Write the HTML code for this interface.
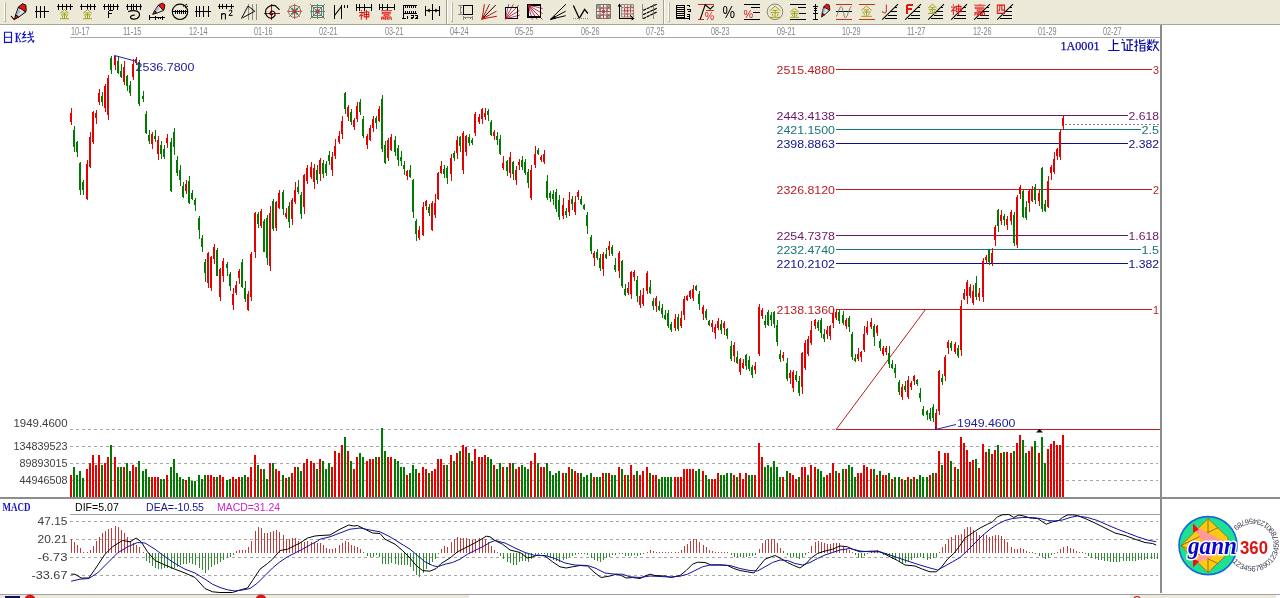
<!DOCTYPE html>
<html><head><meta charset="utf-8"><title>chart</title>
<style>
html,body{margin:0;padding:0;background:#fff;overflow:hidden}
body{width:1280px;height:598px;position:relative;font-family:"Liberation Sans",sans-serif}
#tb{position:absolute;left:0;top:0;width:1280px;height:24px;background:#ece9d8}
#tbl{position:absolute;left:0;top:24px;width:1280px;height:1px;background:#a7a595}
#sb{position:absolute;left:0;top:594px;width:1280px;height:4px;background:#fff;border-top:1px solid #a0a0a0;box-sizing:border-box}
#sb1{position:absolute;left:0;top:595px;width:469px;height:3px;background:#ece9d8}
#sb2{position:absolute;left:1130px;top:595px;width:146px;height:3px;background:#ece9d8}
svg{position:absolute;left:0;top:0;will-change:transform;opacity:0.999}
</style></head><body>
<div id="tb"></div><div id="tbl"></div>
<div id="sb"></div><div id="sb1"></div><div id="sb2"></div>
<svg width="1280" height="598" viewBox="0 0 1280 598">
<line x1="70" y1="37.5" x2="1160" y2="37.5" stroke="#a8a8a8" stroke-width="1" shape-rendering="crispEdges"/><rect x="1160" y="25" width="2" height="568" fill="#8c8c8c" shape-rendering="crispEdges"/><rect x="0" y="497" width="1280" height="2" fill="#8c8c8c" shape-rendering="crispEdges"/><line x1="70" y1="514.5" x2="1160" y2="514.5" stroke="#a0a0a0" stroke-width="1" shape-rendering="crispEdges"/><text x="71" y="34.9" font-size="10" fill="#858585" font-family="'Liberation Sans',sans-serif" textLength="18.5" lengthAdjust="spacingAndGlyphs" >10-17</text><text x="123" y="34.9" font-size="10" fill="#858585" font-family="'Liberation Sans',sans-serif" textLength="18.5" lengthAdjust="spacingAndGlyphs" >11-15</text><text x="189" y="34.9" font-size="10" fill="#858585" font-family="'Liberation Sans',sans-serif" textLength="18.5" lengthAdjust="spacingAndGlyphs" >12-14</text><text x="254" y="34.9" font-size="10" fill="#858585" font-family="'Liberation Sans',sans-serif" textLength="18.5" lengthAdjust="spacingAndGlyphs" >01-16</text><text x="319" y="34.9" font-size="10" fill="#858585" font-family="'Liberation Sans',sans-serif" textLength="18.5" lengthAdjust="spacingAndGlyphs" >02-21</text><text x="385" y="34.9" font-size="10" fill="#858585" font-family="'Liberation Sans',sans-serif" textLength="18.5" lengthAdjust="spacingAndGlyphs" >03-21</text><text x="450" y="34.9" font-size="10" fill="#858585" font-family="'Liberation Sans',sans-serif" textLength="18.5" lengthAdjust="spacingAndGlyphs" >04-24</text><text x="515" y="34.9" font-size="10" fill="#858585" font-family="'Liberation Sans',sans-serif" textLength="18.5" lengthAdjust="spacingAndGlyphs" >05-25</text><text x="581" y="34.9" font-size="10" fill="#858585" font-family="'Liberation Sans',sans-serif" textLength="18.5" lengthAdjust="spacingAndGlyphs" >06-26</text><text x="646" y="34.9" font-size="10" fill="#858585" font-family="'Liberation Sans',sans-serif" textLength="18.5" lengthAdjust="spacingAndGlyphs" >07-25</text><text x="711" y="34.9" font-size="10" fill="#858585" font-family="'Liberation Sans',sans-serif" textLength="18.5" lengthAdjust="spacingAndGlyphs" >08-23</text><text x="777" y="34.9" font-size="10" fill="#858585" font-family="'Liberation Sans',sans-serif" textLength="18.5" lengthAdjust="spacingAndGlyphs" >09-21</text><text x="842" y="34.9" font-size="10" fill="#858585" font-family="'Liberation Sans',sans-serif" textLength="18.5" lengthAdjust="spacingAndGlyphs" >10-29</text><text x="907" y="34.9" font-size="10" fill="#858585" font-family="'Liberation Sans',sans-serif" textLength="18.5" lengthAdjust="spacingAndGlyphs" >11-27</text><text x="973" y="34.9" font-size="10" fill="#858585" font-family="'Liberation Sans',sans-serif" textLength="18.5" lengthAdjust="spacingAndGlyphs" >12-26</text><text x="1038" y="34.9" font-size="10" fill="#858585" font-family="'Liberation Sans',sans-serif" textLength="18.5" lengthAdjust="spacingAndGlyphs" >01-29</text><text x="1103" y="34.9" font-size="10" fill="#858585" font-family="'Liberation Sans',sans-serif" textLength="18.5" lengthAdjust="spacingAndGlyphs" >02-27</text><line x1="70" y1="429.5" x2="836" y2="429.5" stroke="#a6a6a6" stroke-width="1" stroke-dasharray="3 3" shape-rendering="crispEdges"/><line x1="70" y1="446.5" x2="1158" y2="446.5" stroke="#a6a6a6" stroke-width="1" stroke-dasharray="3 3" shape-rendering="crispEdges"/><line x1="70" y1="463.5" x2="1158" y2="463.5" stroke="#a6a6a6" stroke-width="1" stroke-dasharray="3 3" shape-rendering="crispEdges"/><line x1="70" y1="480.5" x2="1158" y2="480.5" stroke="#a6a6a6" stroke-width="1" stroke-dasharray="3 3" shape-rendering="crispEdges"/><line x1="70" y1="521.5" x2="1158" y2="521.5" stroke="#a6a6a6" stroke-width="1" stroke-dasharray="3 3" shape-rendering="crispEdges"/><line x1="70" y1="539.5" x2="1158" y2="539.5" stroke="#a6a6a6" stroke-width="1" stroke-dasharray="3 3" shape-rendering="crispEdges"/><line x1="70" y1="557.5" x2="1158" y2="557.5" stroke="#a6a6a6" stroke-width="1" stroke-dasharray="3 3" shape-rendering="crispEdges"/><line x1="70" y1="575.5" x2="1158" y2="575.5" stroke="#a6a6a6" stroke-width="1" stroke-dasharray="3 3" shape-rendering="crispEdges"/><path fill="#e60000" d="M70 475h2v22h-2zM86 469h2v28h-2zM89 463h2v34h-2zM92 455h2v42h-2zM95 465h2v32h-2zM98 455h2v42h-2zM104 463h2v34h-2zM107 457h2v40h-2zM114 457h2v40h-2zM123 467h2v30h-2zM132 465h2v32h-2zM135 467h2v30h-2zM151 477h2v20h-2zM154 477h2v20h-2zM157 477h2v20h-2zM166 475h2v22h-2zM185 480h2v17h-2zM207 475h2v22h-2zM210 475h2v22h-2zM213 477h2v20h-2zM219 475h2v22h-2zM222 477h2v20h-2zM232 477h2v20h-2zM235 479h2v18h-2zM238 477h2v20h-2zM247 477h2v20h-2zM250 467h2v30h-2zM254 455h2v42h-2zM260 469h2v28h-2zM269 463h2v34h-2zM275 469h2v28h-2zM278 471h2v26h-2zM285 478h2v19h-2zM291 473h2v24h-2zM294 467h2v30h-2zM303 463h2v34h-2zM306 459h2v38h-2zM310 461h2v36h-2zM313 463h2v34h-2zM319 459h2v38h-2zM331 467h2v30h-2zM334 451h2v46h-2zM338 453h2v44h-2zM341 445h2v52h-2zM347 451h2v46h-2zM353 469h2v28h-2zM356 457h2v40h-2zM366 461h2v36h-2zM369 459h2v38h-2zM372 459h2v38h-2zM378 457h2v40h-2zM387 457h2v40h-2zM390 457h2v40h-2zM406 475h2v22h-2zM418 473h2v24h-2zM422 467h2v30h-2zM425 469h2v28h-2zM431 471h2v26h-2zM434 469h2v28h-2zM437 459h2v38h-2zM440 459h2v38h-2zM443 465h2v32h-2zM450 455h2v42h-2zM456 453h2v44h-2zM462 445h2v52h-2zM465 447h2v50h-2zM474 449h2v48h-2zM478 457h2v40h-2zM481 457h2v40h-2zM484 455h2v42h-2zM493 465h2v32h-2zM502 467h2v30h-2zM509 463h2v34h-2zM515 469h2v28h-2zM518 467h2v30h-2zM530 461h2v36h-2zM534 453h2v44h-2zM540 467h2v30h-2zM543 467h2v30h-2zM562 473h2v24h-2zM568 467h2v30h-2zM574 471h2v26h-2zM577 473h2v24h-2zM593 477h2v20h-2zM602 473h2v24h-2zM608 473h2v24h-2zM618 467h2v30h-2zM624 475h2v22h-2zM630 465h2v32h-2zM633 475h2v22h-2zM639 475h2v22h-2zM642 471h2v26h-2zM646 467h2v30h-2zM652 475h2v22h-2zM655 475h2v22h-2zM674 477h2v20h-2zM677 477h2v20h-2zM680 477h2v20h-2zM683 469h2v28h-2zM686 469h2v28h-2zM689 469h2v28h-2zM692 469h2v28h-2zM702 471h2v26h-2zM711 479h2v18h-2zM714 479h2v18h-2zM717 473h2v24h-2zM733 475h2v22h-2zM739 473h2v24h-2zM742 479h2v18h-2zM745 473h2v24h-2zM754 475h2v22h-2zM758 443h2v54h-2zM761 457h2v40h-2zM782 477h2v20h-2zM789 473h2v24h-2zM792 475h2v22h-2zM795 479h2v18h-2zM801 467h2v30h-2zM804 467h2v30h-2zM810 465h2v32h-2zM814 467h2v30h-2zM826 475h2v22h-2zM829 473h2v24h-2zM832 463h2v34h-2zM838 473h2v24h-2zM845 469h2v28h-2zM857 473h2v24h-2zM860 473h2v24h-2zM863 465h2v32h-2zM866 467h2v30h-2zM870 469h2v28h-2zM876 475h2v22h-2zM882 475h2v22h-2zM885 475h2v22h-2zM891 479h2v18h-2zM901 479h2v18h-2zM907 477h2v20h-2zM913 477h2v20h-2zM929 475h2v22h-2zM935 473h2v24h-2zM938 451h2v46h-2zM944 453h2v44h-2zM947 453h2v44h-2zM954 467h2v30h-2zM960 437h2v60h-2zM963 443h2v54h-2zM966 450h2v47h-2zM969 462h2v35h-2zM972 460h2v37h-2zM978 468h2v29h-2zM982 444h2v53h-2zM985 452h2v45h-2zM991 454h2v43h-2zM994 450h2v47h-2zM1000 453h2v44h-2zM1006 452h2v45h-2zM1010 453h2v44h-2zM1016 443h2v54h-2zM1019 435h2v62h-2zM1028 451h2v46h-2zM1031 447h2v50h-2zM1038 453h2v44h-2zM1047 449h2v48h-2zM1050 444h2v53h-2zM1053 441h2v56h-2zM1056 445h2v52h-2zM1059 445h2v52h-2zM1062 435h2v62h-2z"/><path fill="#007a00" d="M73 467h2v30h-2zM76 475h2v22h-2zM79 471h2v26h-2zM82 478h2v19h-2zM101 465h2v32h-2zM110 445h2v52h-2zM117 467h2v30h-2zM120 467h2v30h-2zM126 463h2v34h-2zM129 471h2v26h-2zM138 461h2v36h-2zM142 471h2v26h-2zM145 469h2v28h-2zM148 477h2v20h-2zM160 479h2v18h-2zM163 479h2v18h-2zM170 467h2v30h-2zM173 459h2v38h-2zM176 473h2v24h-2zM179 477h2v20h-2zM182 479h2v18h-2zM188 477h2v20h-2zM191 481h2v16h-2zM194 481h2v16h-2zM198 475h2v22h-2zM201 479h2v18h-2zM204 475h2v22h-2zM216 477h2v20h-2zM226 480h2v17h-2zM229 479h2v18h-2zM241 477h2v20h-2zM244 475h2v22h-2zM257 465h2v32h-2zM263 469h2v28h-2zM266 479h2v18h-2zM272 463h2v34h-2zM282 475h2v22h-2zM288 477h2v20h-2zM297 467h2v30h-2zM300 471h2v26h-2zM316 469h2v28h-2zM322 461h2v36h-2zM325 469h2v28h-2zM328 463h2v34h-2zM344 437h2v60h-2zM350 461h2v36h-2zM359 453h2v44h-2zM362 457h2v40h-2zM375 457h2v40h-2zM381 428h2v69h-2zM384 451h2v46h-2zM394 459h2v38h-2zM397 461h2v36h-2zM400 467h2v30h-2zM403 467h2v30h-2zM409 473h2v24h-2zM412 465h2v32h-2zM415 469h2v28h-2zM428 473h2v24h-2zM446 465h2v32h-2zM453 461h2v36h-2zM459 451h2v46h-2zM468 453h2v44h-2zM471 461h2v36h-2zM487 457h2v40h-2zM490 459h2v38h-2zM496 469h2v28h-2zM499 463h2v34h-2zM506 467h2v30h-2zM512 463h2v34h-2zM521 465h2v32h-2zM524 467h2v30h-2zM527 469h2v28h-2zM537 463h2v34h-2zM546 463h2v34h-2zM549 471h2v26h-2zM552 475h2v22h-2zM555 473h2v24h-2zM558 471h2v26h-2zM565 473h2v24h-2zM571 469h2v28h-2zM580 473h2v24h-2zM583 477h2v20h-2zM586 475h2v22h-2zM590 473h2v24h-2zM596 477h2v20h-2zM599 477h2v20h-2zM605 473h2v24h-2zM611 475h2v22h-2zM614 475h2v22h-2zM621 469h2v28h-2zM627 475h2v22h-2zM636 471h2v26h-2zM649 473h2v24h-2zM658 479h2v18h-2zM661 477h2v20h-2zM664 477h2v20h-2zM667 477h2v20h-2zM670 477h2v20h-2zM695 471h2v26h-2zM698 469h2v28h-2zM705 475h2v22h-2zM708 479h2v18h-2zM720 475h2v22h-2zM723 475h2v22h-2zM726 473h2v24h-2zM730 473h2v24h-2zM736 477h2v20h-2zM748 475h2v22h-2zM751 475h2v22h-2zM764 467h2v30h-2zM767 465h2v32h-2zM770 467h2v30h-2zM773 461h2v36h-2zM776 467h2v30h-2zM779 477h2v20h-2zM786 471h2v26h-2zM798 477h2v20h-2zM807 475h2v22h-2zM817 469h2v28h-2zM820 471h2v26h-2zM823 477h2v20h-2zM835 471h2v26h-2zM842 469h2v28h-2zM848 465h2v32h-2zM851 467h2v30h-2zM854 477h2v20h-2zM873 469h2v28h-2zM879 471h2v26h-2zM888 473h2v24h-2zM894 477h2v20h-2zM898 477h2v20h-2zM904 480h2v17h-2zM910 479h2v18h-2zM916 479h2v18h-2zM919 475h2v22h-2zM922 477h2v20h-2zM926 477h2v20h-2zM932 473h2v24h-2zM941 465h2v32h-2zM950 461h2v36h-2zM957 469h2v28h-2zM975 459h2v38h-2zM988 449h2v48h-2zM997 445h2v52h-2zM1003 452h2v45h-2zM1013 451h2v46h-2zM1022 440h2v57h-2zM1025 453h2v44h-2zM1034 441h2v56h-2zM1041 437h2v60h-2zM1044 463h2v34h-2z"/><line x1="836" y1="69.5" x2="1152" y2="69.5" stroke="#bc1c20" stroke-width="1" shape-rendering="crispEdges"/><text x="776.5" y="73.5" font-size="11" fill="#bc1c20" font-family="'Liberation Sans',sans-serif" textLength="58.5" lengthAdjust="spacingAndGlyphs" >2515.4880</text><text x="1159" y="73.5" font-size="11" fill="#bc1c20" font-family="'Liberation Sans',sans-serif" text-anchor="end" textLength="6" lengthAdjust="spacingAndGlyphs" >3</text><line x1="836" y1="115.5" x2="1127.5" y2="115.5" stroke="#6c1666" stroke-width="1" shape-rendering="crispEdges"/><text x="776.5" y="119.5" font-size="11" fill="#6c1666" font-family="'Liberation Sans',sans-serif" textLength="58.5" lengthAdjust="spacingAndGlyphs" >2443.4138</text><text x="1159" y="119.5" font-size="11" fill="#6c1666" font-family="'Liberation Sans',sans-serif" text-anchor="end" textLength="30.5" lengthAdjust="spacingAndGlyphs" >2.618</text><line x1="836" y1="129.5" x2="1140.5" y2="129.5" stroke="#187676" stroke-width="1" shape-rendering="crispEdges"/><text x="776.5" y="133.5" font-size="11" fill="#187676" font-family="'Liberation Sans',sans-serif" textLength="58.5" lengthAdjust="spacingAndGlyphs" >2421.1500</text><text x="1159" y="133.5" font-size="11" fill="#187676" font-family="'Liberation Sans',sans-serif" text-anchor="end" textLength="17.5" lengthAdjust="spacingAndGlyphs" >2.5</text><line x1="836" y1="143.5" x2="1127.5" y2="143.5" stroke="#10108e" stroke-width="1" shape-rendering="crispEdges"/><text x="776.5" y="147.5" font-size="11" fill="#10108e" font-family="'Liberation Sans',sans-serif" textLength="58.5" lengthAdjust="spacingAndGlyphs" >2398.8863</text><text x="1159" y="147.5" font-size="11" fill="#10108e" font-family="'Liberation Sans',sans-serif" text-anchor="end" textLength="30.5" lengthAdjust="spacingAndGlyphs" >2.382</text><line x1="836" y1="189.5" x2="1152" y2="189.5" stroke="#bc1c20" stroke-width="1" shape-rendering="crispEdges"/><text x="776.5" y="193.5" font-size="11" fill="#bc1c20" font-family="'Liberation Sans',sans-serif" textLength="58.5" lengthAdjust="spacingAndGlyphs" >2326.8120</text><text x="1159" y="193.5" font-size="11" fill="#bc1c20" font-family="'Liberation Sans',sans-serif" text-anchor="end" textLength="6" lengthAdjust="spacingAndGlyphs" >2</text><line x1="836" y1="235.5" x2="1127.5" y2="235.5" stroke="#6c1666" stroke-width="1" shape-rendering="crispEdges"/><text x="776.5" y="239.5" font-size="11" fill="#6c1666" font-family="'Liberation Sans',sans-serif" textLength="58.5" lengthAdjust="spacingAndGlyphs" >2254.7378</text><text x="1159" y="239.5" font-size="11" fill="#6c1666" font-family="'Liberation Sans',sans-serif" text-anchor="end" textLength="30.5" lengthAdjust="spacingAndGlyphs" >1.618</text><line x1="836" y1="249.5" x2="1140.5" y2="249.5" stroke="#187676" stroke-width="1" shape-rendering="crispEdges"/><text x="776.5" y="253.5" font-size="11" fill="#187676" font-family="'Liberation Sans',sans-serif" textLength="58.5" lengthAdjust="spacingAndGlyphs" >2232.4740</text><text x="1159" y="253.5" font-size="11" fill="#187676" font-family="'Liberation Sans',sans-serif" text-anchor="end" textLength="17.5" lengthAdjust="spacingAndGlyphs" >1.5</text><line x1="836" y1="263.5" x2="1127.5" y2="263.5" stroke="#10108e" stroke-width="1" shape-rendering="crispEdges"/><text x="776.5" y="267.5" font-size="11" fill="#10108e" font-family="'Liberation Sans',sans-serif" textLength="58.5" lengthAdjust="spacingAndGlyphs" >2210.2102</text><text x="1159" y="267.5" font-size="11" fill="#10108e" font-family="'Liberation Sans',sans-serif" text-anchor="end" textLength="30.5" lengthAdjust="spacingAndGlyphs" >1.382</text><line x1="836" y1="309.5" x2="1152" y2="309.5" stroke="#bc1c20" stroke-width="1" shape-rendering="crispEdges"/><text x="776.5" y="313.5" font-size="11" fill="#bc1c20" font-family="'Liberation Sans',sans-serif" textLength="58.5" lengthAdjust="spacingAndGlyphs" >2138.1360</text><text x="1159" y="313.5" font-size="11" fill="#bc1c20" font-family="'Liberation Sans',sans-serif" text-anchor="end" textLength="6" lengthAdjust="spacingAndGlyphs" >1</text><line x1="836" y1="429.5" x2="1160" y2="429.5" stroke="#bc1c20" stroke-width="1" shape-rendering="crispEdges"/><line x1="836.5" y1="429" x2="925.5" y2="309.5" stroke="#bc1c20" stroke-width="1"/><line x1="1065" y1="124.5" x2="1159" y2="124.5" stroke="#808080" stroke-width="1" stroke-dasharray="2 2" shape-rendering="crispEdges"/><path fill="#e60000" d="M71 108h1v17h-1zM70 113h2v9h-2zM87 160h1v40h-1zM86 164h2v35h-2zM90 132h1v36h-1zM89 137h2v30h-2zM93 111h1v33h-1zM92 112h2v30h-2zM96 110h1v14h-1zM95 113h2v5h-2zM99 89h1v16h-1zM98 93h2v9h-2zM105 84h1v28h-1zM104 86h2v22h-2zM108 75h1v45h-1zM107 78h2v37h-2zM115 56h1v14h-1zM114 58h2v7h-2zM124 61h1v24h-1zM123 67h2v15h-2zM133 59h1v21h-1zM132 64h2v13h-2zM136 57h1v8h-1zM135 59h2v4h-2zM152 132h1v17h-1zM151 134h2v10h-2zM158 136h1v24h-1zM157 140h2v14h-2zM167 134h1v14h-1zM166 138h2v5h-2zM186 180h1v14h-1zM185 184h2v7h-2zM208 252h1v36h-1zM207 253h2v30h-2zM211 256h1v35h-1zM210 257h2v31h-2zM214 244h1v20h-1zM213 247h2v12h-2zM220 268h1v33h-1zM219 269h2v28h-2zM223 258h1v24h-1zM222 261h2v15h-2zM233 288h1v22h-1zM232 294h2v11h-2zM236 281h1v14h-1zM235 285h2v8h-2zM239 269h1v15h-1zM238 271h2v7h-2zM248 291h1v20h-1zM247 294h2v16h-2zM251 252h1v49h-1zM250 254h2v43h-2zM255 212h1v46h-1zM254 213h2v39h-2zM261 209h1v19h-1zM260 211h2v15h-2zM270 206h1v65h-1zM269 213h2v53h-2zM276 201h1v30h-1zM275 202h2v26h-2zM279 190h1v19h-1zM278 193h2v15h-2zM286 208h1v11h-1zM285 213h2v4h-2zM292 198h1v27h-1zM291 200h2v19h-2zM295 182h1v22h-1zM294 190h2v12h-2zM304 174h1v40h-1zM303 175h2v32h-2zM307 165h1v19h-1zM306 168h2v13h-2zM311 162h1v17h-1zM310 167h2v10h-2zM314 164h1v25h-1zM313 168h2v14h-2zM320 158h1v23h-1zM319 160h2v14h-2zM332 152h1v24h-1zM331 157h2v13h-2zM335 139h1v20h-1zM334 146h2v10h-2zM339 131h1v13h-1zM338 136h2v6h-2zM342 116h1v23h-1zM341 121h2v13h-2zM348 105h1v16h-1zM347 107h2v10h-2zM354 118h1v12h-1zM353 120h2v7h-2zM357 102h1v20h-1zM356 106h2v13h-2zM367 134h1v15h-1zM366 136h2v9h-2zM370 125h1v16h-1zM369 128h2v12h-2zM373 116h1v16h-1zM372 119h2v9h-2zM379 106h1v16h-1zM378 109h2v12h-2zM388 138h1v23h-1zM387 140h2v18h-2zM391 134h1v17h-1zM390 137h2v13h-2zM407 170h1v10h-1zM406 171h2v5h-2zM419 226h1v14h-1zM418 230h2v8h-2zM423 202h1v34h-1zM422 207h2v28h-2zM426 200h1v10h-1zM425 201h2v5h-2zM432 201h1v30h-1zM431 203h2v27h-2zM435 194h1v24h-1zM434 203h2v12h-2zM438 172h1v28h-1zM437 173h2v26h-2zM441 161h1v13h-1zM440 166h2v7h-2zM451 154h1v27h-1zM450 158h2v16h-2zM457 136h1v23h-1zM456 140h2v13h-2zM463 131h1v43h-1zM462 133h2v37h-2zM466 135h1v21h-1zM465 136h2v16h-2zM475 112h1v24h-1zM474 114h2v19h-2zM479 114h1v10h-1zM478 117h2v5h-2zM482 108h1v16h-1zM481 109h2v10h-2zM485 108h1v12h-1zM484 113h2v4h-2zM494 130h1v10h-1zM493 132h2v4h-2zM503 156h1v14h-1zM502 163h2v5h-2zM510 152h1v26h-1zM509 157h2v16h-2zM516 166h1v19h-1zM515 170h2v10h-2zM519 159h1v11h-1zM518 162h2v3h-2zM531 165h1v35h-1zM530 170h2v28h-2zM535 146h1v22h-1zM534 154h2v11h-2zM541 155h1v7h-1zM540 157h2v3h-2zM544 150h1v14h-1zM543 154h2v8h-2zM563 198h1v21h-1zM562 205h2v11h-2zM569 192h1v24h-1zM568 200h2v12h-2zM575 196h1v19h-1zM574 202h2v10h-2zM578 190h1v10h-1zM577 192h2v5h-2zM594 251h1v15h-1zM593 253h2v5h-2zM603 252h1v24h-1zM602 254h2v15h-2zM609 241h1v15h-1zM608 246h2v4h-2zM619 251h1v27h-1zM618 253h2v18h-2zM628 282h1v13h-1zM627 288h2v5h-2zM631 271h1v28h-1zM630 272h2v22h-2zM634 270h1v11h-1zM633 272h2v5h-2zM640 290h1v18h-1zM639 296h2v9h-2zM643 288h1v18h-1zM642 295h2v9h-2zM647 271h1v23h-1zM646 273h2v18h-2zM656 296h1v16h-1zM655 298h2v8h-2zM675 314h1v17h-1zM674 319h2v9h-2zM681 311h1v17h-1zM680 318h2v8h-2zM684 296h1v24h-1zM683 299h2v16h-2zM687 295h1v6h-1zM686 296h2v4h-2zM690 290h1v9h-1zM689 291h2v6h-2zM693 285h1v16h-1zM692 289h2v9h-2zM703 305h1v15h-1zM702 307h2v7h-2zM712 320h1v12h-1zM711 323h2v4h-2zM715 324h1v15h-1zM714 327h2v6h-2zM718 318h1v12h-1zM717 321h2v7h-2zM724 321h1v14h-1zM723 323h2v5h-2zM734 342h1v20h-1zM733 345h2v11h-2zM740 358h1v17h-1zM739 359h2v13h-2zM743 359h1v10h-1zM742 363h2v5h-2zM755 362h1v12h-1zM754 366h2v4h-2zM759 304h1v52h-1zM758 307h2v47h-2zM762 308h1v11h-1zM761 310h2v6h-2zM783 352h1v9h-1zM782 355h2v3h-2zM790 370h1v14h-1zM789 373h2v5h-2zM793 370h1v22h-1zM792 372h2v16h-2zM802 352h1v42h-1zM801 353h2v34h-2zM805 340h1v30h-1zM804 343h2v25h-2zM808 336h1v20h-1zM807 339h2v15h-2zM811 321h1v24h-1zM810 330h2v13h-2zM815 319h1v10h-1zM814 320h2v6h-2zM827 326h1v13h-1zM826 330h2v4h-2zM830 325h1v15h-1zM829 326h2v10h-2zM833 309h1v19h-1zM832 313h2v10h-2zM836 309h1v11h-1zM835 312h2v6h-2zM846 318h1v11h-1zM845 320h2v6h-2zM858 348h1v13h-1zM857 354h2v5h-2zM861 351h1v11h-1zM860 352h2v5h-2zM864 326h1v26h-1zM863 334h2v16h-2zM867 321h1v14h-1zM866 327h2v6h-2zM871 318h1v11h-1zM870 322h2v5h-2zM877 325h1v11h-1zM876 326h2v7h-2zM883 346h1v10h-1zM882 348h2v6h-2zM886 346h1v9h-1zM885 348h2v4h-2zM902 384h1v16h-1zM901 387h2v10h-2zM908 376h1v23h-1zM907 380h2v17h-2zM911 381h1v9h-1zM910 383h2v4h-2zM914 375h1v10h-1zM913 376h2v5h-2zM936 409h1v20h-1zM935 413h2v14h-2zM939 370h1v45h-1zM938 371h2v40h-2zM945 355h1v26h-1zM944 357h2v19h-2zM948 340h1v14h-1zM947 342h2v6h-2zM955 342h1v12h-1zM954 344h2v8h-2zM961 300h1v56h-1zM960 306h2v44h-2zM964 289h1v11h-1zM963 293h2v6h-2zM967 280h1v24h-1zM966 282h2v14h-2zM970 284h1v14h-1zM969 287h2v9h-2zM973 285h1v20h-1zM972 291h2v12h-2zM979 288h1v13h-1zM978 293h2v4h-2zM983 258h1v44h-1zM982 261h2v36h-2zM986 255h1v9h-1zM985 257h2v3h-2zM992 248h1v18h-1zM991 253h2v10h-2zM995 225h1v21h-1zM994 227h2v13h-2zM1001 210h1v15h-1zM1000 215h2v6h-2zM1007 216h1v14h-1zM1006 219h2v6h-2zM1011 210h1v15h-1zM1010 212h2v9h-2zM1017 195h1v53h-1zM1016 197h2v48h-2zM1020 185h1v14h-1zM1019 187h2v7h-2zM1029 189h1v23h-1zM1028 191h2v12h-2zM1032 186h1v16h-1zM1031 190h2v11h-2zM1039 190h1v16h-1zM1038 193h2v8h-2zM1048 176h1v32h-1zM1047 181h2v26h-2zM1051 165h1v15h-1zM1050 167h2v6h-2zM1054 152h1v22h-1zM1053 159h2v13h-2zM1057 148h1v12h-1zM1056 149h2v7h-2zM1060 129h1v31h-1zM1059 132h2v25h-2zM1063 116h1v14h-1zM1062 118h2v8h-2z"/><path fill="#007a00" d="M74 126h1v26h-1zM73 130h2v17h-2zM77 141h1v16h-1zM76 142h2v10h-2zM80 162h1v33h-1zM79 163h2v27h-2zM83 180h1v15h-1zM82 182h2v8h-2zM102 92h1v14h-1zM101 96h2v6h-2zM111 56h1v18h-1zM110 58h2v12h-2zM118 56h1v18h-1zM117 61h2v12h-2zM121 64h1v14h-1zM120 71h2v6h-2zM127 75h1v16h-1zM126 76h2v10h-2zM130 81h1v15h-1zM129 85h2v8h-2zM139 60h1v46h-1zM138 62h2v42h-2zM143 91h1v11h-1zM142 96h2v3h-2zM146 111h1v23h-1zM145 114h2v19h-2zM149 130h1v14h-1zM148 135h2v6h-2zM155 130h1v12h-1zM154 136h2v3h-2zM161 141h1v18h-1zM160 145h2v9h-2zM164 145h1v14h-1zM163 149h2v8h-2zM171 138h1v54h-1zM170 142h2v49h-2zM174 128h1v27h-1zM173 132h2v15h-2zM177 156h1v20h-1zM176 160h2v13h-2zM180 165h1v21h-1zM179 170h2v10h-2zM183 182h1v16h-1zM182 186h2v11h-2zM189 176h1v28h-1zM188 181h2v22h-2zM192 190h1v10h-1zM191 193h2v6h-2zM195 198h1v13h-1zM194 200h2v5h-2zM199 216h1v23h-1zM198 218h2v12h-2zM202 235h1v17h-1zM201 238h2v9h-2zM205 259h1v23h-1zM204 262h2v11h-2zM217 248h1v28h-1zM216 250h2v26h-2zM227 262h1v14h-1zM226 264h2v4h-2zM230 272h1v19h-1zM229 274h2v12h-2zM242 259h1v29h-1zM241 262h2v25h-2zM245 281h1v21h-1zM244 288h2v11h-2zM258 212h1v16h-1zM257 214h2v10h-2zM264 219h1v33h-1zM263 221h2v31h-2zM267 215h1v50h-1zM266 218h2v40h-2zM273 199h1v32h-1zM272 201h2v28h-2zM283 190h1v25h-1zM282 192h2v17h-2zM289 202h1v26h-1zM288 206h2v16h-2zM298 180h1v14h-1zM297 187h2v5h-2zM301 192h1v27h-1zM300 195h2v19h-2zM317 165h1v19h-1zM316 170h2v10h-2zM323 160h1v18h-1zM322 163h2v11h-2zM326 161h1v15h-1zM325 164h2v9h-2zM329 151h1v14h-1zM328 155h2v6h-2zM345 92h1v22h-1zM344 93h2v16h-2zM351 109h1v16h-1zM350 112h2v10h-2zM360 99h1v16h-1zM359 102h2v10h-2zM363 116h1v22h-1zM362 119h2v17h-2zM376 116h1v13h-1zM375 118h2v5h-2zM382 95h1v57h-1zM381 99h2v50h-2zM385 141h1v23h-1zM384 145h2v18h-2zM395 136h1v20h-1zM394 140h2v12h-2zM398 145h1v21h-1zM397 148h2v12h-2zM401 151h1v15h-1zM400 157h2v4h-2zM404 161h1v14h-1zM403 165h2v4h-2zM410 165h1v13h-1zM409 170h2v7h-2zM413 179h1v39h-1zM412 180h2v32h-2zM416 219h1v22h-1zM415 221h2v13h-2zM429 204h1v12h-1zM428 207h2v6h-2zM444 165h1v13h-1zM443 169h2v5h-2zM447 166h1v18h-1zM446 168h2v10h-2zM454 151h1v10h-1zM453 153h2v5h-2zM460 136h1v16h-1zM459 137h2v9h-2zM469 134h1v12h-1zM468 137h2v6h-2zM472 138h1v7h-1zM471 140h2v3h-2zM488 109h1v12h-1zM487 111h2v4h-2zM491 120h1v16h-1zM490 122h2v13h-2zM497 132h1v13h-1zM496 136h2v4h-2zM500 135h1v20h-1zM499 139h2v15h-2zM507 160h1v16h-1zM506 161h2v10h-2zM513 161h1v19h-1zM512 162h2v12h-2zM522 156h1v14h-1zM521 160h2v7h-2zM525 159h1v16h-1zM524 162h2v11h-2zM528 169h1v19h-1zM527 172h2v11h-2zM538 148h1v7h-1zM537 150h2v4h-2zM547 175h1v25h-1zM546 181h2v17h-2zM550 191h1v11h-1zM549 193h2v5h-2zM553 190h1v15h-1zM552 194h2v5h-2zM556 189h1v23h-1zM555 192h2v17h-2zM559 195h1v25h-1zM558 200h2v17h-2zM566 208h1v10h-1zM565 211h2v4h-2zM572 196h1v14h-1zM571 199h2v5h-2zM581 196h1v9h-1zM580 199h2v5h-2zM584 204h1v6h-1zM583 205h2v4h-2zM587 212h1v22h-1zM586 215h2v11h-2zM591 235h1v19h-1zM590 237h2v14h-2zM597 249h1v11h-1zM596 252h2v6h-2zM600 254h1v17h-1zM599 258h2v10h-2zM606 248h1v11h-1zM605 254h2v4h-2zM612 245h1v11h-1zM611 247h2v7h-2zM615 258h1v14h-1zM614 265h2v5h-2zM622 260h1v28h-1zM621 261h2v25h-2zM625 284h1v12h-1zM624 289h2v6h-2zM637 276h1v26h-1zM636 280h2v16h-2zM650 280h1v14h-1zM649 287h2v6h-2zM653 298h1v12h-1zM652 301h2v5h-2zM659 301h1v10h-1zM658 306h2v4h-2zM662 304h1v14h-1zM661 308h2v6h-2zM665 310h1v10h-1zM664 315h2v4h-2zM668 310h1v18h-1zM667 313h2v13h-2zM671 322h1v10h-1zM670 324h2v6h-2zM678 314h1v17h-1zM677 317h2v12h-2zM696 285h1v6h-1zM695 286h2v4h-2zM699 291h1v19h-1zM698 294h2v10h-2zM706 309h1v11h-1zM705 311h2v7h-2zM709 320h1v6h-1zM708 321h2v4h-2zM721 320h1v14h-1zM720 324h2v6h-2zM727 328h1v11h-1zM726 329h2v7h-2zM731 341h1v20h-1zM730 346h2v13h-2zM737 351h1v13h-1zM736 357h2v6h-2zM746 354h1v16h-1zM745 355h2v11h-2zM749 356h1v15h-1zM748 360h2v9h-2zM752 365h1v13h-1zM751 367h2v8h-2zM765 315h1v13h-1zM764 321h2v4h-2zM768 310h1v16h-1zM767 312h2v13h-2zM771 312h1v14h-1zM770 315h2v5h-2zM774 311h1v17h-1zM773 312h2v12h-2zM777 320h1v26h-1zM776 325h2v17h-2zM780 350h1v12h-1zM779 354h2v5h-2zM787 358h1v23h-1zM786 363h2v16h-2zM796 371h1v11h-1zM795 375h2v5h-2zM799 376h1v20h-1zM798 381h2v12h-2zM818 320h1v11h-1zM817 322h2v6h-2zM821 318h1v20h-1zM820 320h2v13h-2zM824 329h1v13h-1zM823 334h2v5h-2zM839 310h1v14h-1zM838 312h2v9h-2zM843 311h1v14h-1zM842 315h2v8h-2zM849 316h1v16h-1zM848 318h2v9h-2zM852 332h1v28h-1zM851 334h2v23h-2zM855 354h1v8h-1zM854 358h2v3h-2zM874 324h1v22h-1zM873 326h2v11h-2zM880 339h1v12h-1zM879 341h2v7h-2zM889 346h1v22h-1zM888 353h2v11h-2zM892 360h1v9h-1zM891 364h2v4h-2zM895 364h1v14h-1zM894 368h2v5h-2zM899 380h1v15h-1zM898 382h2v10h-2zM905 381h1v11h-1zM904 386h2v4h-2zM917 379h1v7h-1zM916 380h2v4h-2zM920 388h1v14h-1zM919 393h2v5h-2zM923 406h1v10h-1zM922 409h2v6h-2zM927 410h1v10h-1zM926 411h2v4h-2zM930 408h1v13h-1zM929 413h2v6h-2zM933 404h1v18h-1zM932 407h2v11h-2zM942 374h1v11h-1zM941 378h2v4h-2zM951 341h1v10h-1zM950 343h2v5h-2zM958 345h1v13h-1zM957 348h2v8h-2zM976 276h1v24h-1zM975 283h2v14h-2zM989 249h1v16h-1zM988 250h2v12h-2zM998 209h1v23h-1zM997 210h2v16h-2zM1004 214h1v12h-1zM1003 216h2v4h-2zM1014 212h1v34h-1zM1013 215h2v28h-2zM1023 190h1v28h-1zM1022 191h2v26h-2zM1026 201h1v19h-1zM1025 207h2v11h-2zM1035 184h1v20h-1zM1034 187h2v13h-2zM1042 167h1v45h-1zM1041 168h2v41h-2zM1045 200h1v12h-1zM1044 204h2v7h-2z"/><path d="M114.5 58.5V55.5L137 61.5" fill="none" stroke="#2222b0" stroke-width="1"/><text x="135.5" y="71" font-size="11" fill="#1a1a9c" font-family="'Liberation Sans',sans-serif" textLength="59" lengthAdjust="spacingAndGlyphs" >2536.7800</text><path d="M935.5 426.5V429.5L956 424.5" fill="none" stroke="#2222b0" stroke-width="1"/><text x="957" y="427" font-size="11" fill="#1a1a9c" font-family="'Liberation Sans',sans-serif" textLength="58.5" lengthAdjust="spacingAndGlyphs" >1949.4600</text><path d="M1036 432.5L1039.5 429L1043 432.5z" fill="#000"/><text x="67.5" y="426.5" font-size="11" fill="#404040" font-family="'Liberation Sans',sans-serif" text-anchor="end" textLength="54" lengthAdjust="spacingAndGlyphs" >1949.4600</text><text x="67.5" y="449.5" font-size="11" fill="#404040" font-family="'Liberation Sans',sans-serif" text-anchor="end" textLength="54" lengthAdjust="spacingAndGlyphs" >134839523</text><text x="67.5" y="466.5" font-size="11" fill="#404040" font-family="'Liberation Sans',sans-serif" text-anchor="end" textLength="48" lengthAdjust="spacingAndGlyphs" >89893015</text><text x="67.5" y="483.5" font-size="11" fill="#404040" font-family="'Liberation Sans',sans-serif" text-anchor="end" textLength="48" lengthAdjust="spacingAndGlyphs" >44946508</text><text x="67.5" y="524.5" font-size="11" fill="#404040" font-family="'Liberation Sans',sans-serif" text-anchor="end" textLength="30" lengthAdjust="spacingAndGlyphs" >47.15</text><text x="67.5" y="542.5" font-size="11" fill="#404040" font-family="'Liberation Sans',sans-serif" text-anchor="end" textLength="30" lengthAdjust="spacingAndGlyphs" >20.21</text><text x="67.5" y="560.5" font-size="11" fill="#404040" font-family="'Liberation Sans',sans-serif" text-anchor="end" textLength="30" lengthAdjust="spacingAndGlyphs" >-6.73</text><text x="67.5" y="578.5" font-size="11" fill="#404040" font-family="'Liberation Sans',sans-serif" text-anchor="end" textLength="36" lengthAdjust="spacingAndGlyphs" >-33.67</text><text x="2.5" y="511" font-size="12" fill="#1414c8" font-family="'Liberation Serif',sans-serif" textLength="28" lengthAdjust="spacingAndGlyphs" font-weight="bold">MACD</text><text x="75" y="510.8" font-size="11.6" fill="#000" font-family="'Liberation Sans',sans-serif" textLength="43.8" lengthAdjust="spacingAndGlyphs" >DIF=5.07</text><text x="146" y="510.8" font-size="11.6" fill="#14149c" font-family="'Liberation Sans',sans-serif" textLength="58" lengthAdjust="spacingAndGlyphs" >DEA=-10.55</text><text x="217" y="510.8" font-size="11.6" fill="#d020d0" font-family="'Liberation Sans',sans-serif" textLength="63" lengthAdjust="spacingAndGlyphs" >MACD=31.24</text><path fill="#c03a3a" d="M71 539h1v14h-1zM74 542h1v11h-1zM77 545h1v8h-1zM80 548h1v5h-1zM83 552h1v1h-1zM87 552h1v1h-1zM90 550h1v3h-1zM93 546h1v7h-1zM96 541h1v12h-1zM99 537h1v16h-1zM102 533h1v20h-1zM105 531h1v22h-1zM108 529h1v24h-1zM111 528h1v25h-1zM115 526h1v27h-1zM118 527h1v26h-1zM121 530h1v23h-1zM124 533h1v20h-1zM127 537h1v16h-1zM130 541h1v12h-1zM133 543h1v10h-1zM136 545h1v8h-1zM139 547h1v6h-1zM143 552h1v1h-1zM236 551h1v2h-1zM239 550h1v3h-1zM242 550h1v3h-1zM245 550h1v3h-1zM248 547h1v6h-1zM251 541h1v12h-1zM255 531h1v22h-1zM258 527h1v26h-1zM261 528h1v25h-1zM264 533h1v20h-1zM267 533h1v20h-1zM270 532h1v21h-1zM273 531h1v22h-1zM276 530h1v23h-1zM279 532h1v21h-1zM283 535h1v18h-1zM286 539h1v14h-1zM289 539h1v14h-1zM292 538h1v15h-1zM295 538h1v15h-1zM298 541h1v12h-1zM301 542h1v11h-1zM304 542h1v11h-1zM307 541h1v12h-1zM311 542h1v11h-1zM314 543h1v10h-1zM317 543h1v10h-1zM320 543h1v10h-1zM323 545h1v8h-1zM326 548h1v5h-1zM329 549h1v4h-1zM332 549h1v4h-1zM335 548h1v5h-1zM339 545h1v8h-1zM342 543h1v10h-1zM345 541h1v12h-1zM348 542h1v11h-1zM351 545h1v8h-1zM354 546h1v7h-1zM357 547h1v6h-1zM360 549h1v4h-1zM363 552h1v1h-1zM441 549h1v4h-1zM444 546h1v7h-1zM447 547h1v6h-1zM451 542h1v11h-1zM454 539h1v14h-1zM457 537h1v16h-1zM460 538h1v15h-1zM463 538h1v15h-1zM466 538h1v15h-1zM469 539h1v14h-1zM472 540h1v13h-1zM475 539h1v14h-1zM479 538h1v15h-1zM482 538h1v15h-1zM485 539h1v14h-1zM488 542h1v11h-1zM491 546h1v7h-1zM494 550h1v3h-1zM497 552h1v1h-1zM647 552h1v1h-1zM650 550h1v3h-1zM653 551h1v2h-1zM656 552h1v1h-1zM659 552h1v1h-1zM662 552h1v1h-1zM665 552h1v1h-1zM668 552h1v1h-1zM671 552h1v1h-1zM675 552h1v1h-1zM678 552h1v1h-1zM681 550h1v3h-1zM684 546h1v7h-1zM687 544h1v9h-1zM690 541h1v12h-1zM693 539h1v14h-1zM696 539h1v14h-1zM699 542h1v11h-1zM703 545h1v8h-1zM706 547h1v6h-1zM709 550h1v3h-1zM712 551h1v2h-1zM715 552h1v1h-1zM718 552h1v1h-1zM721 552h1v1h-1zM724 552h1v1h-1zM727 552h1v1h-1zM759 549h1v4h-1zM762 543h1v10h-1zM765 540h1v13h-1zM768 539h1v14h-1zM771 539h1v14h-1zM774 539h1v14h-1zM777 543h1v10h-1zM780 548h1v5h-1zM783 551h1v2h-1zM808 552h1v1h-1zM811 546h1v7h-1zM815 542h1v11h-1zM818 541h1v12h-1zM821 542h1v11h-1zM824 543h1v10h-1zM827 544h1v9h-1zM830 544h1v9h-1zM833 543h1v10h-1zM836 543h1v10h-1zM839 543h1v10h-1zM843 547h1v6h-1zM846 549h1v4h-1zM849 550h1v3h-1zM852 552h1v1h-1zM871 551h1v2h-1zM874 551h1v2h-1zM877 550h1v3h-1zM880 552h1v1h-1zM939 552h1v1h-1zM942 547h1v6h-1zM945 544h1v9h-1zM948 539h1v14h-1zM951 537h1v16h-1zM955 535h1v18h-1zM958 535h1v18h-1zM961 534h1v19h-1zM964 529h1v24h-1zM967 527h1v26h-1zM970 527h1v26h-1zM973 530h1v23h-1zM976 532h1v21h-1zM979 535h1v18h-1zM983 535h1v18h-1zM986 535h1v18h-1zM989 537h1v16h-1zM992 536h1v17h-1zM995 535h1v18h-1zM998 535h1v18h-1zM1001 536h1v17h-1zM1004 539h1v14h-1zM1007 542h1v11h-1zM1011 547h1v6h-1zM1014 549h1v4h-1zM1017 549h1v4h-1zM1020 548h1v5h-1zM1023 549h1v4h-1zM1026 551h1v2h-1zM1029 552h1v1h-1zM1032 552h1v1h-1zM1057 552h1v1h-1zM1060 549h1v4h-1zM1063 547h1v6h-1zM1067 546h1v7h-1zM1070 548h1v5h-1zM1073 549h1v4h-1zM1076 551h1v2h-1zM1079 552h1v1h-1zM1082 552h1v1h-1z"/><path fill="#2e8b2e" d="M146 553h1v8h-1zM149 553h1v10h-1zM152 553h1v13h-1zM155 553h1v15h-1zM158 553h1v16h-1zM161 553h1v16h-1zM164 553h1v15h-1zM167 553h1v15h-1zM171 553h1v16h-1zM174 553h1v15h-1zM177 553h1v14h-1zM180 553h1v12h-1zM183 553h1v11h-1zM186 553h1v11h-1zM189 553h1v10h-1zM192 553h1v11h-1zM195 553h1v12h-1zM199 553h1v15h-1zM202 553h1v17h-1zM205 553h1v20h-1zM208 553h1v17h-1zM211 553h1v14h-1zM214 553h1v12h-1zM217 553h1v11h-1zM220 553h1v9h-1zM223 553h1v7h-1zM227 553h1v5h-1zM230 553h1v4h-1zM233 553h1v2h-1zM367 553h1v3h-1zM370 553h1v4h-1zM373 553h1v4h-1zM376 553h1v2h-1zM379 553h1v4h-1zM382 553h1v11h-1zM385 553h1v11h-1zM388 553h1v11h-1zM391 553h1v10h-1zM395 553h1v11h-1zM398 553h1v12h-1zM401 553h1v12h-1zM404 553h1v12h-1zM407 553h1v12h-1zM410 553h1v14h-1zM413 553h1v18h-1zM416 553h1v22h-1zM419 553h1v24h-1zM423 553h1v20h-1zM426 553h1v16h-1zM429 553h1v12h-1zM432 553h1v9h-1zM435 553h1v6h-1zM438 553h1v1h-1zM500 553h1v3h-1zM503 553h1v6h-1zM507 553h1v9h-1zM510 553h1v10h-1zM513 553h1v12h-1zM516 553h1v12h-1zM519 553h1v9h-1zM522 553h1v8h-1zM525 553h1v8h-1zM528 553h1v9h-1zM531 553h1v6h-1zM535 553h1v3h-1zM538 553h1v1h-1zM541 553h1v1h-1zM544 553h1v1h-1zM547 553h1v3h-1zM550 553h1v5h-1zM553 553h1v7h-1zM556 553h1v8h-1zM559 553h1v9h-1zM563 553h1v7h-1zM566 553h1v6h-1zM569 553h1v4h-1zM572 553h1v3h-1zM575 553h1v2h-1zM578 553h1v1h-1zM581 553h1v1h-1zM584 553h1v1h-1zM587 553h1v2h-1zM591 553h1v5h-1zM594 553h1v7h-1zM597 553h1v8h-1zM600 553h1v9h-1zM603 553h1v7h-1zM606 553h1v5h-1zM609 553h1v4h-1zM612 553h1v2h-1zM615 553h1v2h-1zM619 553h1v1h-1zM622 553h1v1h-1zM625 553h1v3h-1zM628 553h1v3h-1zM631 553h1v3h-1zM634 553h1v2h-1zM637 553h1v3h-1zM640 553h1v2h-1zM643 553h1v1h-1zM731 553h1v2h-1zM734 553h1v4h-1zM737 553h1v4h-1zM740 553h1v4h-1zM743 553h1v4h-1zM746 553h1v4h-1zM749 553h1v3h-1zM752 553h1v3h-1zM755 553h1v2h-1zM787 553h1v2h-1zM790 553h1v4h-1zM793 553h1v4h-1zM796 553h1v5h-1zM799 553h1v6h-1zM802 553h1v4h-1zM805 553h1v2h-1zM855 553h1v2h-1zM858 553h1v5h-1zM861 553h1v5h-1zM864 553h1v3h-1zM867 553h1v1h-1zM883 553h1v2h-1zM886 553h1v2h-1zM889 553h1v4h-1zM892 553h1v6h-1zM895 553h1v7h-1zM899 553h1v9h-1zM902 553h1v10h-1zM905 553h1v10h-1zM908 553h1v8h-1zM911 553h1v7h-1zM914 553h1v5h-1zM917 553h1v4h-1zM920 553h1v4h-1zM923 553h1v5h-1zM927 553h1v7h-1zM930 553h1v6h-1zM933 553h1v5h-1zM936 553h1v4h-1zM1035 553h1v1h-1zM1039 553h1v3h-1zM1042 553h1v4h-1zM1045 553h1v6h-1zM1048 553h1v5h-1zM1051 553h1v2h-1zM1054 553h1v1h-1zM1085 553h1v1h-1zM1088 553h1v3h-1zM1091 553h1v5h-1zM1095 553h1v6h-1zM1098 553h1v7h-1zM1101 553h1v7h-1zM1104 553h1v8h-1zM1107 553h1v8h-1zM1110 553h1v9h-1zM1113 553h1v9h-1zM1116 553h1v9h-1zM1119 553h1v9h-1zM1123 553h1v8h-1zM1126 553h1v8h-1zM1129 553h1v8h-1zM1132 553h1v8h-1zM1135 553h1v8h-1zM1138 553h1v7h-1zM1141 553h1v7h-1zM1144 553h1v7h-1zM1147 553h1v6h-1zM1151 553h1v6h-1zM1154 553h1v6h-1zM1157 553h1v6h-1z"/><path d="M71.2 574.2 L75.0 574.2 L81.2 578.0 L88.8 578.0 L95.0 569.2 L105.0 554.2 L112.5 546.8 L122.5 540.5 L130.0 541.8 L136.2 538.0 L141.2 541.8 L147.5 551.8 L155.0 560.5 L165.0 565.0 L175.0 569.2 L185.0 573.0 L195.0 577.5 L200.0 583.0 L205.0 588.5 L212.5 591.8 L220.0 592.5 L232.5 592.5 L240.0 590.0 L247.5 588.0 L252.5 580.5 L260.0 569.2 L267.5 563.5 L272.5 559.2 L280.0 550.5 L287.5 549.2 L295.0 545.5 L300.0 543.0 L307.5 538.0 L315.0 536.0 L320.0 535.5 L330.0 535.0 L340.0 529.2 L348.8 525.0 L353.8 526.0 L357.5 525.5 L365.0 529.2 L372.5 533.0 L380.0 533.5 L385.0 539.2 L395.0 544.2 L402.5 550.5 L410.0 558.0 L416.2 565.5 L422.5 570.5 L430.0 571.2 L436.2 568.5 L441.2 563.5 L450.0 558.0 L457.5 551.8 L465.0 548.0 L472.5 544.2 L480.0 540.0 L486.2 536.2 L490.0 536.8 L495.0 540.5 L502.5 544.2 L510.0 550.0 L520.0 552.5 L527.5 558.0 L532.5 556.8 L537.5 555.0 L545.0 556.0 L552.5 561.8 L560.0 566.8 L566.2 568.0 L572.5 566.8 L580.0 565.5 L587.5 566.0 L595.0 573.0 L601.2 577.5 L610.0 576.0 L616.2 574.2 L621.2 575.5 L626.2 578.0 L632.5 577.5 L640.0 578.5 L645.0 576.0 L650.0 574.2 L655.0 575.5 L665.0 576.0 L671.2 577.5 L680.0 575.5 L686.2 570.5 L692.5 564.2 L697.5 562.2 L705.0 562.5 L711.2 565.0 L720.0 565.0 L727.5 565.5 L733.8 568.5 L740.0 570.5 L747.5 571.8 L753.8 573.0 L758.8 566.8 L765.0 559.2 L771.2 556.8 L775.0 555.5 L780.0 558.0 L787.5 562.5 L793.8 565.5 L800.0 568.0 L806.2 563.5 L811.2 558.0 L817.5 553.5 L825.0 551.0 L832.5 549.2 L840.0 546.0 L847.5 546.8 L852.5 549.2 L860.0 551.8 L870.0 551.2 L877.5 551.0 L883.8 553.5 L890.0 556.8 L897.5 560.5 L905.0 565.0 L915.0 566.0 L922.5 569.2 L930.0 571.8 L936.2 571.8 L941.2 567.5 L947.5 559.2 L953.8 553.5 L960.0 545.5 L965.0 538.0 L972.5 533.0 L980.0 528.0 L987.5 524.2 L992.5 521.8 L997.5 516.8 L1002.5 514.8 L1008.8 514.5 L1013.8 517.5 L1018.8 515.0 L1023.8 516.0 L1030.0 518.0 L1037.5 518.5 L1042.5 521.8 L1046.2 524.2 L1052.5 521.8 L1058.8 520.5 L1062.5 517.5 L1067.5 515.0 L1072.5 514.8 L1077.5 515.5 L1085.0 518.5 L1095.0 523.0 L1105.0 528.0 L1115.0 533.0 L1125.0 535.5 L1135.0 539.2 L1145.0 542.5 L1152.5 543.5 L1156.2 545.0" fill="none" stroke="#000000" stroke-width="1" stroke-linejoin="round"/><path d="M71.2 581.2 L80.0 579.2 L88.8 578.5 L97.5 573.0 L107.5 563.0 L117.5 553.0 L127.5 546.8 L137.5 542.5 L145.0 543.0 L155.0 549.2 L165.0 556.8 L175.0 563.5 L185.0 569.2 L195.0 573.0 L205.0 579.2 L212.5 584.2 L220.0 587.5 L227.5 589.8 L235.0 591.0 L242.5 590.0 L250.0 588.5 L257.5 583.0 L265.0 575.5 L272.5 568.0 L280.0 561.8 L287.5 556.8 L295.0 553.0 L302.5 549.2 L310.0 545.0 L317.5 541.0 L320.0 539.2 L330.0 536.8 L340.0 533.0 L350.0 529.2 L360.0 528.0 L370.0 530.0 L380.0 531.8 L390.0 536.8 L400.0 543.0 L410.0 549.2 L417.5 555.5 L425.0 561.8 L432.5 565.5 L437.5 566.8 L445.0 564.2 L452.5 562.5 L460.0 559.2 L467.5 554.2 L475.0 550.5 L482.5 546.8 L490.0 542.5 L495.0 540.5 L505.0 543.0 L515.0 548.0 L525.0 552.5 L535.0 555.5 L545.0 555.5 L555.0 558.5 L565.0 563.0 L575.0 565.0 L587.5 565.5 L595.0 568.0 L605.0 573.0 L615.0 574.2 L622.5 574.2 L630.0 576.8 L640.0 577.5 L650.0 576.0 L660.0 576.5 L670.0 577.0 L680.0 576.2 L687.5 574.2 L695.0 570.5 L702.5 566.8 L710.0 565.0 L720.0 564.8 L730.0 565.5 L740.0 568.5 L750.0 570.5 L757.5 571.0 L765.0 566.8 L772.5 562.5 L780.0 560.0 L787.5 560.5 L795.0 563.5 L802.5 565.0 L810.0 562.5 L817.5 558.5 L825.0 555.0 L832.5 552.5 L840.0 550.0 L850.0 548.5 L860.0 551.0 L870.0 551.8 L880.0 551.8 L890.0 555.0 L900.0 558.5 L910.0 561.8 L920.0 565.0 L930.0 568.0 L937.5 570.0 L945.0 566.0 L952.5 561.8 L960.0 557.5 L967.5 550.5 L975.0 543.0 L982.5 535.5 L990.0 529.2 L997.5 524.2 L1005.0 520.5 L1012.5 518.5 L1022.5 517.5 L1032.5 517.5 L1040.0 518.5 L1047.5 520.5 L1055.0 521.0 L1062.5 520.0 L1070.0 517.5 L1077.5 516.0 L1087.5 517.5 L1097.5 520.5 L1107.5 525.0 L1117.5 529.2 L1127.5 533.0 L1137.5 536.8 L1147.5 540.0 L1156.2 541.8" fill="none" stroke="#1010a0" stroke-width="1" stroke-linejoin="round"/><text x="1060.5" y="50" font-size="12.5" fill="#0a0aa0" font-family="'Liberation Serif',sans-serif" textLength="39" lengthAdjust="spacingAndGlyphs" stroke="#0a0aa0" stroke-width="0.25">1A0001</text><path d="M1113.4 39.2V50.5M1113.4 43.6H1118.4M1108.2 50.5H1119.6" fill="none" stroke="#0a0aa8" stroke-width="1.2" stroke-linecap="butt"/><path d="M1122 39.2L1123.4 40.6M1121.2 42.6H1124.2V50.2L1125.6 49M1126.2 39.8H1133M1130 39.8V50.4M1130 44.6H1133M1127.3 44.2V50.4M1125.4 50.5H1133.2" fill="none" stroke="#0a0aa8" stroke-width="1.15" stroke-linecap="butt"/><path d="M1134.3 42H1138M1136.3 39.2V50.8L1135 50.2M1134.3 46.8L1138 44.8M1139.6 39.2V43.5H1145.2V42.6M1144.6 39.8L1140.2 41.5M1140.2 45.2H1144.8V51H1140.2ZM1140.2 48H1144.8" fill="none" stroke="#0a0aa8" stroke-width="1.1" stroke-linecap="butt"/><path d="M1146.8 42H1152.2M1149.5 39.2V44.6M1147.6 39.6L1148.2 40.8M1151.7 39.6L1151 40.8M1149.5 42.6L1147 44.8M1149.5 42.6L1152 44.5M1148.8 45L1147.6 48L1152 50.5M1146.8 46.8H1152.4M1151 46L1147 50.8M1154.3 39.2L1152.6 43.5M1153.8 42H1159M1157.5 42L1153 50.8M1154 44.6L1159 50.8" fill="none" stroke="#0a0aa8" stroke-width="1.05" stroke-linecap="butt"/><path d="M4.5 32.2H11.5V42.4H4.5ZM4.5 37.2H11.5M4.5 42.4V43.2M11.5 42.4V43.2" fill="none" stroke="#1010c8" stroke-width="1.15" stroke-linecap="butt"/><path d="M16.6 33.4V41.6" fill="none" stroke="#1010c8" stroke-width="1.6" stroke-linecap="butt"/><path d="M15.2 33.3H18M15.2 41.7H18M19.4 33.3H21.2M19.2 41.7H21.4M20.3 33.5L17.4 37.6M18.2 36.8L20.4 41.5" fill="none" stroke="#1010c8" stroke-width="0.9" stroke-linecap="butt"/><path d="M25 31.4L22.8 34.4H25.4L22.6 37.8L26.4 37.4M22.2 42L26.4 40.4M27.6 34.4L33 33.8M27.2 37.4L34 36.6M29.6 31.2Q30 38 33.2 42.2L34 40M32.2 31.6L33 32.6M31.6 38.8L27.6 42.6" fill="none" stroke="#1010c8" stroke-width="1.05" stroke-linecap="butt"/><circle cx="1208" cy="545.6" r="29" fill="#1fe090" stroke="#1468e0" stroke-width="1.6"/><path d="M1181 545.6L1208 518.6L1228 537.6L1228 553.6L1208 572.6Z" fill="#ffc814" stroke="#8a6a10" stroke-width="0.8"/><path d="M1208 518.6V572.6M1181 545.6L1218 527.6M1181 545.6L1218 563.6" fill="none" stroke="#7a5a10" stroke-width="0.8"/><path d="M1194 525.6L1224 541.6L1224 551.6L1196 563.6L1204 545.6Z" fill="#ff9a9a"/><path d="M1193 523.6L1199 529.6L1193 532.6Z" fill="#f01010"/><path d="M1193 567.6L1199 561.6L1193 558.6Z" fill="#f01010"/><text x="1188" y="553.6" font-family="'Liberation Serif',serif" font-style="italic" font-weight="bold" font-size="25" fill="#fff" stroke="#fff" stroke-width="3" stroke-linejoin="round" textLength="49" lengthAdjust="spacingAndGlyphs">gann</text><text x="1188" y="553.6" font-family="'Liberation Serif',serif" font-style="italic" font-weight="bold" font-size="25" fill="#0808cc" textLength="49" lengthAdjust="spacingAndGlyphs">gann</text><text x="1240" y="553.6" font-family="'Liberation Sans',sans-serif" font-weight="bold" font-size="18" fill="#dc1414" textLength="28" lengthAdjust="spacingAndGlyphs">360</text><defs><path id="arc" d="M1232.4 561.9A26.3 26.3 0 1 0 1233.3 527.1"/></defs><text font-family="'Liberation Sans',sans-serif" font-size="7.6" fill="#3c3c4c" letter-spacing="0.15"><textPath href="#arc">123456789012345678901234567890</textPath></text><rect x="4" y="2" width="1" height="19" fill="#fff"/><rect x="5" y="2" width="1" height="20" fill="#b5b2a0"/><rect x="4" y="21" width="2" height="1" fill="#b5b2a0"/><rect x="446" y="0" width="1" height="24" fill="#a5a291"/><rect x="447" y="0" width="1" height="24" fill="#fbfaf4"/><rect x="451" y="2" width="1" height="19" fill="#fff"/><rect x="452" y="2" width="1" height="20" fill="#b5b2a0"/><rect x="451" y="21" width="2" height="1" fill="#b5b2a0"/><rect x="663" y="0" width="1" height="24" fill="#a5a291"/><rect x="664" y="0" width="1" height="24" fill="#fbfaf4"/><rect x="668" y="2" width="1" height="19" fill="#fff"/><rect x="669" y="2" width="1" height="20" fill="#b5b2a0"/><rect x="668" y="21" width="2" height="1" fill="#b5b2a0"/><g transform="translate(11 4) scale(1.0) rotate(0 8 8)"><path d="M7.3 3.3L8.2 2.2L11.6 -0.3L14.9 1.1L15.2 6.1L14.7 8.1Z" fill="#e81414" stroke="#000" stroke-width="0.9" stroke-linejoin="round"/><path d="M7.3 3.3L14.7 8.1L7.6 13.2L4.6 10.8Z" fill="#b9bdc8" stroke="#000" stroke-width="0.9" stroke-linejoin="round"/><path d="M9 5.6L11.6 7.6L7.6 11" fill="none" stroke="#eef0f4" stroke-width="1.4"/><path d="M7 6L6 9.4" fill="none" stroke="#8a8e9a" stroke-width="0.9"/><path d="M4.6 10.8L7.6 13.2L3.4 15.6Z" fill="#d81818" stroke="#000" stroke-width="0.9" stroke-linejoin="round"/><path d="M0 12L3.2 15.6" fill="none" stroke="#000" stroke-width="1.1"/></g><path d="M35 11.5H49M36.5 6V18M40.5 6V18M44.5 6V18" fill="none" stroke="#000" stroke-width="1" shape-rendering="crispEdges"/><path d="M57 6.5H73M58.5 4V9.5M62.5 4V9.5M66.5 4V9.5M70.5 4V9.5" fill="none" stroke="#000" stroke-width="1" shape-rendering="crispEdges"/><g transform="translate(60 9.6) scale(0.9 0.95)"><path d="M5 0L0.2 4M5 0L9.8 4M2.6 3.6H7.4M1 5.6H9M5 3.6V9.6M2.4 6.6L3.2 8.6M7.6 6.6L6.8 8.6M0 9.6H10" fill="none" stroke="#a0a010" stroke-width="1.03"/></g><path d="M80 6.5H96M81.5 4V9.5M87.5 4V9.5M90.5 4V9.5M94.5 4V9.5" fill="none" stroke="#000" stroke-width="1" shape-rendering="crispEdges"/><g transform="translate(83 9.6) scale(0.9 0.95)"><path d="M5 0L0.2 4M5 0L9.8 4M2.6 3.6H7.4M1 5.6H9M5 3.6V9.6M2.4 6.6L3.2 8.6M7.6 6.6L6.8 8.6M0 9.6H10" fill="none" stroke="#a0a010" stroke-width="1.03"/></g><path d="M103 6.5H119M104.5 4V9.5M108.5 4V9.5M110.5 4V9.5M113.5 4V9.5M117.5 4V9.5" fill="none" stroke="#000" stroke-width="1" shape-rendering="crispEdges"/><path d="M108.5 10.5V18M108.5 10.5H113M108.5 13.5H112" fill="none" stroke="#000" stroke-width="1.2" shape-rendering="crispEdges"/><path d="M126 6.5H142M127.5 4V9.5M131.5 4V9.5M133.5 4V9.5M136.5 4V9.5M140.5 4V9.5" fill="none" stroke="#000" stroke-width="1" shape-rendering="crispEdges"/><path d="M128.2 11.6Q133 9.6 137.6 11.4Q140.4 13.2 139.2 16.2Q137.4 19.4 133.4 19.2Q130 18.6 130.6 16.6Q131.6 15 134.8 15.2" fill="none" stroke="#000" stroke-width="1.2" /><g transform="translate(151.2 2.4) scale(0.84) rotate(14 8 8)"><path d="M7.3 3.3L8.2 2.2L11.6 -0.3L14.9 1.1L15.2 6.1L14.7 8.1Z" fill="#e81414" stroke="#000" stroke-width="0.9" stroke-linejoin="round"/><path d="M7.3 3.3L14.7 8.1L7.6 13.2L4.6 10.8Z" fill="#b9bdc8" stroke="#000" stroke-width="0.9" stroke-linejoin="round"/><path d="M9 5.6L11.6 7.6L7.6 11" fill="none" stroke="#eef0f4" stroke-width="1.4"/><path d="M7 6L6 9.4" fill="none" stroke="#8a8e9a" stroke-width="0.9"/><path d="M4.6 10.8L7.6 13.2L3.4 15.6Z" fill="#d81818" stroke="#000" stroke-width="0.9" stroke-linejoin="round"/></g><path d="M149 17.5H165M149.5 15V20M155.5 15.5V19.5M162.5 15.5V19.5M158.5 16.5V19M160.5 16.5V19" fill="none" stroke="#000" stroke-width="1" shape-rendering="crispEdges"/><circle cx="180" cy="11.8" r="7.7" fill="none" stroke="#000" stroke-width="1.1"/><path d="M172 11.5H188M175.5 10V14M177.5 10V14M179.5 10V14M181.5 10V14M183.5 10V14M185.5 9.5V14" fill="none" stroke="#000" stroke-width="1" shape-rendering="crispEdges"/><path d="M183 6.4L187.2 4.2M185.2 7.8L188 6" fill="none" stroke="#000" stroke-width="1" /><path d="M195 11.5H211M196.5 6V17M199.5 6V17M203.5 6V17M208.5 6V17" fill="none" stroke="#000" stroke-width="1" shape-rendering="crispEdges"/><path d="M218 6.5H234M219.5 4V9M222.5 4V9M226.5 4V9M231.5 4V9" fill="none" stroke="#000" stroke-width="1" shape-rendering="crispEdges"/><path d="M221.6 13.2V19.6M221.6 14.8Q223.6 12.8 225.4 14.2V19.6" fill="none" stroke="#000" stroke-width="1.05" /><path d="M228.8 11.2Q230.4 9.2 232 10.6Q232.4 12 229 15.4H232.6" fill="none" stroke="#000" stroke-width="1.0" /><path d="M248.5 4V20M252.5 4V20M256.5 4V20" fill="none" stroke="#8e8e86" stroke-width="1" shape-rendering="crispEdges"/><path d="M241.4 18.6L248 6L254.8 11.2L242.6 17.8" fill="none" stroke="#000" stroke-width="0.95" /><path d="M271.5 4V20M264 13.5H280" fill="none" stroke="#b01818" stroke-width="1" shape-rendering="crispEdges"/><path d="M279.6 9.8L275.2 5.6Q270 4.4 266.2 9Q264 14 268.4 17.4Q272.6 19.4 275 15.4Q275.6 11.4 272 11Q269.2 12 270.2 14.4Q272 15.6 273 13.6" fill="none" stroke="#000" stroke-width="1.1" /><circle cx="294.6" cy="11.4" r="6.1" fill="none" stroke="#9c5a58" stroke-width="0.9"/><path d="M287.0 11.4H302.20000000000005M294.6 3.8000000000000007V19.0" fill="none" stroke="#c84840" stroke-width="1.0" /><path d="M289.20000000000005 6.0L300.0 16.8M289.20000000000005 16.8L300.0 6.0" fill="none" stroke="#3f8474" stroke-width="1.0" /><path d="M291.6 8.4L297.6 14.4M291.6 14.4L297.6 8.4" fill="none" stroke="#3f8474" stroke-width="2.0" /><circle cx="294.6" cy="11.4" r="1.5" fill="#d02020"/><path d="M311.5 5.5H323.5V17.5H311.5ZM313.5 7.5H321.5V15.5H313.5ZM310.0 11.5H325.0M317.5 4.0V19.0" fill="none" stroke="#4a8a7a" stroke-width="1" shape-rendering="crispEdges"/><path d="M310.2 4.2L324.8 18.8M310.2 18.8L324.8 4.2" fill="none" stroke="#c03038" stroke-width="1.0" stroke-dasharray="1.4 1"/><rect x="315.5" y="9.5" width="4" height="4" fill="#a04858"/><path d="M334.5 5V19M341.5 5V19M344.5 5V8M347.5 5V8" fill="none" stroke="#000" stroke-width="1.2" shape-rendering="crispEdges"/><path d="M334.5 15.5L341.5 6.5" fill="none" stroke="#000" stroke-width="1.2" /><path d="M356 7.5H372M356.5 4V10.5M359.5 4V10.5M364.5 4V10.5M371.5 4V10.5" fill="none" stroke="#000" stroke-width="1" shape-rendering="crispEdges"/><g transform="translate(359 10) scale(1.0 0.9800000000000001)"><path d="M2 0L2.8 1.2M0 2.6H4L0.3 6.6M2.3 4.4V10M3.2 5.2L4.2 6.2M5.2 2H9.8V7H5.2ZM5.2 4.5H9.8M7.5 0V10" fill="none" stroke="#e01414" stroke-width="1.06"/></g><path d="M379 7.5H395M379.5 4V10M382.5 4V10M387.5 4V10M394.5 4V10" fill="none" stroke="#000" stroke-width="1" shape-rendering="crispEdges"/><g transform="translate(381 9.8) scale(1.1 1.0)"><path d="M0 0.9H10M5 0V0.9M1 2.6H9M1 2.6V4H9M2.8 5H7.2V6.3H2.8ZM0.6 7.2V10M0.6 7.2H2.8V10M0.6 8.6H2.8M3.9 7.2H6.4V9H3.9ZM4.6 9L3.6 10M5.6 9L6.8 10M7.4 7.2V10M7.4 7.2H9.2V9.6L10 10M8.2 8.4L8.6 8.8" fill="none" stroke="#e01414" stroke-width="0.86"/></g><path d="M403.5 5V18.5M403 5.5H417M404 13.5H417M402 18.5H405.5" fill="none" stroke="#000" stroke-width="1" shape-rendering="crispEdges"/><path d="M405.5 5.5V8M407.5 5.5V8M409.5 5.5V8M411.5 5.5V8M413.5 5.5V8M415.5 5.5V8M405.5 10.5V13.5M407.5 11V13.5M409.5 10.5V13.5M411.5 11V13.5M413.5 10.5V13.5M415.5 11V13.5" fill="none" stroke="#000" stroke-width="1" shape-rendering="crispEdges"/><path d="M407.5 15.5V18.5M407 16H408M411 15.5H413V17H411.5V18.5H413M415 15.5H417V18.5H415M415.5 17H417" fill="none" stroke="#000" stroke-width="1" shape-rendering="crispEdges"/><path d="M432.5 4V20M425.5 6V16M439.5 6V16M425.5 10.5H439.5" fill="none" stroke="#000" stroke-width="1" shape-rendering="crispEdges"/><path d="M426.5 10.5L429.8 8.4V12.6ZM438.5 10.5L435.2 8.4V12.6Z" fill="#000"/><path d="M463.5 5.5H472.5V14.5H463.5Z" fill="none" stroke="#000" stroke-width="1.25" shape-rendering="crispEdges"/><path d="M458 5.5H463M458 14.5H463M460.5 5.5V14.5M463.5 17.5H472.5M463.5 15.5V20M472.5 15.5V20" fill="none" stroke="#8c8a80" stroke-width="1" shape-rendering="crispEdges"/><path d="M459.5 7.5H461.5M459.5 12.5H461.5M465.5 16.5V18.5M470.5 16.5V18.5" fill="none" stroke="#8c8a80" stroke-width="1" shape-rendering="crispEdges"/><path d="M482.2 18.8L484.4 4.2M482.2 18.8L489.5 4.2M482.2 18.8L496.5 11.2M482.2 18.8L496.8 16.3" fill="none" stroke="#b41414" stroke-width="1.0" /><path d="M483.2 17.8L495.7 5" fill="none" stroke="#000" stroke-width="1.0" /><path d="M481.0 20.0L482.5 15.3L486.0 18.400000000000002Z" fill="#d01010"/><rect x="505" y="7" width="12.5" height="12" fill="#fdf2f8"/><path d="M505.2 19L508.8 4.2M505.2 19L519.6 15.2" fill="none" stroke="#8a1a7a" stroke-width="0.8" /><path d="M505.2 19L518.6 5.2M505.2 19L513.4 4.4M505.2 19L519.4 10.6" fill="none" stroke="#b01818" stroke-width="0.85" /><path d="M505.2 7.2H517.2V18.8H505.2Z" fill="none" stroke="#000" stroke-width="1.25" shape-rendering="crispEdges"/><path d="M505.2 19L505.2 15.6L508.59999999999997 19Z" fill="#9a1030"/><rect x="528" y="5" width="12.5" height="12" fill="#fdf2f8"/><path d="M528 5L532.4 19.6M528 5L542.8 8.6" fill="none" stroke="#8a1a7a" stroke-width="0.8" /><path d="M528 5L542.6 19.6M528 5L537 19.4M528 5L542.6 13.6" fill="none" stroke="#b01818" stroke-width="0.85" /><path d="M528 5H540.2V17H528Z" fill="none" stroke="#000" stroke-width="1.25" shape-rendering="crispEdges"/><path d="M528 5L528 8.4L531.4 5Z" fill="#c01030"/><path d="M550.4 19.3L566 4.2" fill="none" stroke="#000" stroke-width="1.0" /><path d="M550.4 19.3L565.7 11.2M550.4 19.3L565.7 15.7" fill="none" stroke="#000" stroke-width="1.0" /><path d="M550.0 19.8L555.0 15.700000000000001L555.8 18.7Z" fill="#000"/><path d="M573.4 5.4L579.3 18.4L584.6 9.4L587.9 13.5" fill="none" stroke="#000" stroke-width="1.3" /><path d="M573 18.5H588" fill="none" stroke="#8a887c" stroke-width="1" shape-rendering="crispEdges" stroke-dasharray="1 1"/><rect x="596.5" y="4.5" width="14" height="14" fill="#e8e4d8"/><path d="M596.5 4.5V18.5M596.5 4.5H610.5M600.0 4.5V18.5M596.5 8.0H610.5M603.5 4.5V18.5M596.5 11.5H610.5M607.0 4.5V18.5M596.5 15.0H610.5M610.5 4.5V18.5M596.5 18.5H610.5" fill="none" stroke="#77756c" stroke-width="1.0" /><path d="M600.0 4.5V18.5M603.5 4.5V18.5M607.0 4.5V18.5M596.5 8.0H610.5M596.5 11.5H610.5M596.5 15.0H610.5" fill="none" stroke="#c8404c" stroke-width="1.0" stroke-dasharray="3.6 3.6" stroke-dashoffset="-3.6"/><circle cx="598.3" cy="6.3" r="1" fill="none" stroke="#555" stroke-width="0.7"/><circle cx="608.7" cy="6.3" r="1" fill="none" stroke="#555" stroke-width="0.7"/><circle cx="598.3" cy="16.7" r="1" fill="none" stroke="#555" stroke-width="0.7"/><circle cx="608.7" cy="16.7" r="1" fill="none" stroke="#555" stroke-width="0.7"/><path d="M602 10L605 13M605 10L602 13" fill="none" stroke="#a04050" stroke-width="0.9" /><rect x="621.5" y="4.5" width="12" height="12.5" fill="#e8e4d8"/><path d="M621.5 4.5V17.0M621.5 4.5H633.5M624.5 4.5V17.0M621.5 7.6H633.5M627.5 4.5V17.0M621.5 10.8H633.5M630.5 4.5V17.0M621.5 13.9H633.5M633.5 4.5V17.0M621.5 17.0H633.5" fill="none" stroke="#a08a88" stroke-width="1.0" /><path d="M624.5 4.5V17.0M627.5 4.5V17.0M630.5 4.5V17.0M621.5 7.6H633.5M621.5 10.8H633.5M621.5 13.9H633.5" fill="none" stroke="#c8404c" stroke-width="1.0" stroke-dasharray="3.6 3.6" stroke-dashoffset="-3.6"/><path d="M619.5 5V18.5H633" fill="none" stroke="#000" stroke-width="1.4" shape-rendering="crispEdges"/><path d="M619.5 3.6L617.6 6.6H621.4ZM634.6 18.5L631.6 16.6V20.4Z" fill="#000"/><path d="M630.2 15.2L633 18" fill="none" stroke="#000" stroke-width="1" /><circle cx="631" cy="6.6" r="1" fill="none" stroke="#666" stroke-width="0.7"/><path d="M642.5 4V19M653.5 4V19" fill="none" stroke="#8e8c82" stroke-width="1" shape-rendering="crispEdges"/><path d="M643.2 10.4L656.7 4.2M643.2 14.6L656.7 8.4M643.2 18.6L656.7 12.1" fill="none" stroke="#000" stroke-width="1.2" stroke-dasharray="3.2 0.7"/><path d="M676.5 5V18.5M684.5 5V18.5M676.5 18.5H690M689.5 17V20" fill="none" stroke="#000" stroke-width="1.2" shape-rendering="crispEdges"/><path d="M676.5 5.5H684M676.5 7.5H684M676.5 9.5H684M676.5 11.5H684M676.5 13.5H684M676.5 15.5H684M676.5 17.5H684" fill="none" stroke="#000" stroke-width="1" shape-rendering="crispEdges"/><path d="M687 5.5H690M689.5 5.5V7M687 9.5H690V11H687.5M687 14.5H690M689.5 14.5V16.5M687 16H690" fill="none" stroke="#000" stroke-width="1" shape-rendering="crispEdges"/><path d="M698 4.5H714M698 19.5H704M706 10.5H714" fill="none" stroke="#d02a20" stroke-width="1.2" shape-rendering="crispEdges"/><path d="M700.2 19.2L705.2 4.8L710.2 9L713.8 5.6" fill="none" stroke="#000" stroke-width="1.1" /><text x="704.8" y="19.6" font-size="10.5" font-family="'Liberation Sans',sans-serif" fill="#d42020" textLength="9.4" lengthAdjust="spacingAndGlyphs">%</text><text x="722.4" y="18" font-size="16.5" font-family="'Liberation Sans',sans-serif" fill="#000" textLength="12.6" lengthAdjust="spacingAndGlyphs">%</text><path d="M744 4.5H760M751 7.5H760M753 12.5H760M744 19.5H760" fill="none" stroke="#000" stroke-width="1.3" shape-rendering="crispEdges"/><text x="743.6" y="18" font-size="10.8" font-family="'Liberation Sans',sans-serif" fill="#d42020" textLength="9.6" lengthAdjust="spacingAndGlyphs">%</text><circle cx="775" cy="11.8" r="7.8" fill="none" stroke="#86846f" stroke-width="1"/><g transform="translate(769.4 6.2) scale(1.1400000000000001 1.16)"><path d="M5 0L0.2 4M5 0L9.8 4M2.6 3.6H7.4M1 5.6H9M5 3.6V9.6M2.4 6.6L3.2 8.6M7.6 6.6L6.8 8.6M0 9.6H10" fill="none" stroke="#a0a010" stroke-width="0.83"/></g><path d="M790 4.5H806M797.5 7.5H806M799 13.5H806M790 19.5H806" fill="none" stroke="#000" stroke-width="1.3" shape-rendering="crispEdges"/><g transform="translate(790 8.4) scale(0.9 0.93)"><path d="M5 0L0.2 4M5 0L9.8 4M2.6 3.6H7.4M1 5.6H9M5 3.6V9.6M2.4 6.6L3.2 8.6M7.6 6.6L6.8 8.6M0 9.6H10" fill="none" stroke="#a0a010" stroke-width="1.04"/></g><path d="M815.5 4V20M813 6.5H818M813 13.5H818M813 19.5H818M814 8.5H817M814 10.5H817" fill="none" stroke="#000" stroke-width="1.2" shape-rendering="crispEdges"/><g transform="translate(818.2 4.6) scale(0.78) rotate(-6 8 8)"><path d="M7.3 3.3L8.2 2.2L11.6 -0.3L14.9 1.1L15.2 6.1L14.7 8.1Z" fill="#e81414" stroke="#000" stroke-width="0.9" stroke-linejoin="round"/><path d="M7.3 3.3L14.7 8.1L7.6 13.2L4.6 10.8Z" fill="#b9bdc8" stroke="#000" stroke-width="0.9" stroke-linejoin="round"/><path d="M9 5.6L11.6 7.6L7.6 11" fill="none" stroke="#eef0f4" stroke-width="1.4"/><path d="M7 6L6 9.4" fill="none" stroke="#8a8e9a" stroke-width="0.9"/><path d="M4.6 10.8L7.6 13.2L3.4 15.6Z" fill="#d81818" stroke="#000" stroke-width="0.9" stroke-linejoin="round"/></g><path d="M836 4.5H852M836 19.5H852" fill="none" stroke="#c8301e" stroke-width="1.4" shape-rendering="crispEdges"/><path d="M836 11.5H852" fill="none" stroke="#000" stroke-width="1.2" shape-rendering="crispEdges"/><path d="M836.4 16.6Q838.4 11 840.6 6.4Q842.4 6 843.2 11.5Q844.2 17.6 845.4 18Q847.4 17 848.6 11.5Q850.2 7 851.6 6.2" fill="none" stroke="#85857d" stroke-width="1.0" /><path d="M859 4.5H875M859 19.5H875" fill="none" stroke="#c8301e" stroke-width="1.4" shape-rendering="crispEdges"/><g transform="translate(861.2 6) scale(1.06 1.08)"><path d="M5 0L0.2 4M5 0L9.8 4M2.6 3.6H7.4M1 5.6H9M5 3.6V9.6M2.4 6.6L3.2 8.6M7.6 6.6L6.8 8.6M0 9.6H10" fill="none" stroke="#a0a010" stroke-width="0.89"/></g><path d="M882.2 19.7L898 4.2" fill="none" stroke="#000" stroke-width="1.05" /><path d="M884.7 18.5H897M887.6 15.5H897M891 11.5H897M895.2 7.5H897" fill="none" stroke="#000" stroke-width="1.0" shape-rendering="crispEdges"/><path d="M905.2 19.7L921 4.2" fill="none" stroke="#000" stroke-width="1.05" /><path d="M907.7 18.5H920M910.6 15.5H920M914 11.5H920M918.2 7.5H920" fill="none" stroke="#000" stroke-width="1.0" shape-rendering="crispEdges"/><path d="M928.2 19.7L944 4.2" fill="none" stroke="#000" stroke-width="1.05" /><path d="M930.7 18.5H943M933.6 15.5H943M937 11.5H943M941.2 7.5H943" fill="none" stroke="#000" stroke-width="1.0" shape-rendering="crispEdges"/><path d="M951.2 19.7L967 4.2" fill="none" stroke="#000" stroke-width="1.05" /><path d="M953.7 18.5H966M956.6 15.5H966M960 11.5H966M964.2 7.5H966" fill="none" stroke="#000" stroke-width="1.0" shape-rendering="crispEdges"/><path d="M974.2 19.7L990 4.2" fill="none" stroke="#000" stroke-width="1.05" /><path d="M976.7 18.5H989M979.6 15.5H989M983 11.5H989M987.2 7.5H989" fill="none" stroke="#000" stroke-width="1.0" shape-rendering="crispEdges"/><path d="M997.2 19.7L1013 4.2" fill="none" stroke="#000" stroke-width="1.05" /><path d="M999.7 18.5H1012M1002.6 15.5H1012M1006 11.5H1012M1010.2 7.5H1012" fill="none" stroke="#000" stroke-width="1.0" shape-rendering="crispEdges"/><path d="M886.4 4.6V11.2Q886 13 884.2 13Q882.6 12.8 882.4 11" fill="none" stroke="#d03a3a" stroke-width="1.1" /><path d="M906.8 4.5V13.5M906.8 5.2H912.6M906.8 8.8H911.6" fill="none" stroke="#e01414" stroke-width="2.0" shape-rendering="crispEdges"/><g transform="translate(928 4.2) scale(0.8800000000000001 0.96)"><path d="M5 0L0.2 4M5 0L9.8 4M2.6 3.6H7.4M1 5.6H9M5 3.6V9.6M2.4 6.6L3.2 8.6M7.6 6.6L6.8 8.6M0 9.6H10" fill="none" stroke="#a0a010" stroke-width="1.03"/></g><g transform="translate(951 4.2) scale(1.02 1.08)"><path d="M2 0L2.8 1.2M0 2.6H4L0.3 6.6M2.3 4.4V10M3.2 5.2L4.2 6.2M5.2 2H9.8V7H5.2ZM5.2 4.5H9.8M7.5 0V10" fill="none" stroke="#e01414" stroke-width="1.00"/></g><g transform="translate(974.2 4.2) scale(1.1199999999999999 1.1400000000000001)"><path d="M0 0.9H10M5 0V0.9M1 2.6H9M1 2.6V4H9M2.8 5H7.2V6.3H2.8ZM0.6 7.2V10M0.6 7.2H2.8V10M0.6 8.6H2.8M3.9 7.2H6.4V9H3.9ZM4.6 9L3.6 10M5.6 9L6.8 10M7.4 7.2V10M7.4 7.2H9.2V9.6L10 10M8.2 8.4L8.6 8.8" fill="none" stroke="#e01414" stroke-width="0.80"/></g><g transform="translate(997 4.8) scale(0.78 0.9)"><path d="M0.4 0.4H9.6V9.6H0.4ZM3.6 0.4V4.5Q3.4 6.4 1.8 7M6.2 0.4V6H9.6" fill="none" stroke="#e01414" stroke-width="1.31"/></g><rect x="5" y="596" width="15" height="2" fill="#10105a"/><circle cx="30" cy="600" r="5.5" fill="#e81010"/><circle cx="261" cy="600" r="5.5" fill="#e81010"/><circle cx="1137" cy="599.5" r="3" fill="none" stroke="#c01010" stroke-width="1.2"/>
</svg>
</body></html>
